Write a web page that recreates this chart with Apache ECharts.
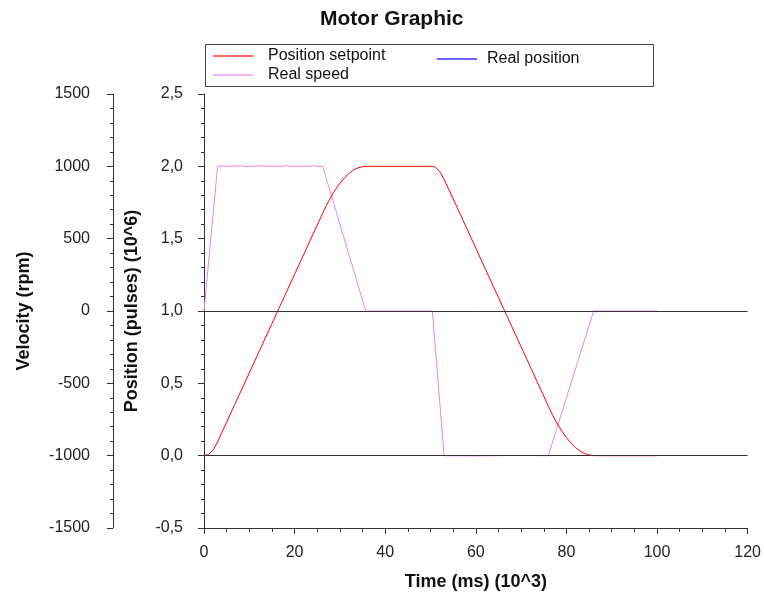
<!DOCTYPE html>
<html>
<head>
<meta charset="utf-8">
<script src="https://cdn.jsdelivr.net/npm/echarts@6/dist/echarts.min.js"></script>
<style>
html,body{margin:0;padding:0;background:#fff;}
#chart{width:764px;height:596px;}
</style>
</head>
<body>
<div id="chart"></div>
<script>
// Time in ms (x10^3), position in pulses (x10^6), speed in rpm
var positionSetpoint = [
  [0,0],[0.2,0],[1,0.008],[2,0.039],[3,0.095],[5,0.232],[10,0.572],[15,0.913],[20,1.254],
  [26.2,1.676],[27,1.728],[28,1.787],[29,1.839],[30,1.883],[31,1.921],[32,1.951],[33,1.974],
  [34,1.990],[35,1.998],[36,2.0],[50.4,2.0],[51,1.995],[52,1.966],[53,1.911],[55,1.775],
  [60,1.434],[65,1.093],[70,0.752],[76,0.343],[77,0.278],[78,0.220],[79,0.169],[80,0.125],
  [81,0.087],[82,0.056],[83,0.032],[84,0.015],[85,0.005],[86,0],[100,0]
];
// Real position: no visible trace in the reference (listed in legend only)
var realPosition = [];
var realSpeed = [
  [0,0],[0.2,0],[3.0,1000],[4,1004],[5,998],[6,1003],[7,1000],[8,1005],[9,999],[10,1002],
  [11,998],[12,1004],[13,1000],[14,1003],[15,998],[16,1002],[17,1000],[18,1005],[19,999],
  [20,1003],[21,998],[22,1002],[23,1000],[24,1004],[25,999],[26.2,1000],[35.7,0],[50.4,0],
  [53,-1000],[60,-1002],[68,-998],[76,-1000],[86,0],[100,0]
];
var legendNames = ['Position setpoint','Real position','Real speed'];

var chart = echarts.init(document.getElementById('chart'));
var FONT = '"Liberation Sans", Arial, sans-serif';
var axisCommon = {
  axisLine:{show:true, onZero:false, lineStyle:{color:'#333', width:1}},
  axisTick:{show:true, length:6, lineStyle:{color:'#333'}},
  minorTick:{show:true, splitNumber:5, length:3, lineStyle:{color:'#333'}},
  splitLine:{show:false},
  axisLabel:{color:'#222', fontSize:16, fontFamily:FONT},
  nameTextStyle:{color:'#111', fontSize:18, fontWeight:'bold', fontFamily:FONT}
};
var zeroLine = function(){
  return {silent:true, symbol:'none', label:{show:false},
    lineStyle:{color:'#333', width:1, type:'solid'}, data:[{yAxis:0}]};
};
var legendBase = {itemWidth:40, itemHeight:1.5, itemGap:0, icon:'rect'};
chart.setOption({
  animation:false,
  backgroundColor:'#fff',
  title:{text:'Motor Graphic', left:315, top:4,
    textStyle:{fontSize:21, fontWeight:'bold', color:'#111', fontFamily:FONT}},
  graphic:[{type:'rect', shape:{x:205.5, y:44.5, width:448, height:42},
    style:{fill:'none', stroke:'#444', lineWidth:1}}],
  legend:[
    Object.assign({data:[legendNames[0]], left:208, top:43,
      textStyle:{fontSize:16, color:'#111', fontFamily:FONT, padding:[0,0,0,10]}}, legendBase),
    Object.assign({data:[legendNames[1]], left:432, top:46,
      textStyle:{fontSize:16, color:'#111', fontFamily:FONT, padding:[0,0,0,5]}}, legendBase),
    Object.assign({data:[legendNames[2]], left:208, top:62,
      textStyle:{fontSize:16, color:'#111', fontFamily:FONT, padding:[0,0,0,10]}}, legendBase)
  ],
  grid:{left:204, right:14, top:94, bottom:68, containLabel:false},
  xAxis:Object.assign({}, axisCommon, {
    type:'value', min:0, max:120, interval:20,
    minorTick:{show:true, splitNumber:4, length:4, lineStyle:{color:'#333'}},
    axisLabel:Object.assign({}, axisCommon.axisLabel, {margin:17}),
    name:'Time (ms) (10^3)', nameLocation:'middle', nameGap:45
  }),
  yAxis:[
    Object.assign({}, axisCommon, {
      type:'value', min:-0.5, max:2.5, interval:0.5, position:'left', offset:0,
      axisLabel:Object.assign({}, axisCommon.axisLabel, {margin:21,
        formatter:function(v){return v.toFixed(1).replace('.',',');}}),
      name:'Position (pulses) (10^6)', nameLocation:'middle', nameGap:63
    }),
    Object.assign({}, axisCommon, {
      type:'value', min:-1500, max:1500, interval:500, position:'left', offset:91,
      axisLabel:Object.assign({}, axisCommon.axisLabel, {margin:23,
        formatter:function(v){return String(v);}}),
      name:'Velocity (rpm)', nameLocation:'middle', nameGap:80
    })
  ],
  series:[
    {name:'Real position', type:'line', yAxisIndex:0, data:realPosition, symbol:'none',
      lineStyle:{color:'#0000ff', width:1}, itemStyle:{color:'#3333ff'}, z:1},
    {name:'Position setpoint', type:'line', yAxisIndex:0, data:positionSetpoint, symbol:'none',
      lineStyle:{color:'#ff0000', width:1}, itemStyle:{color:'#ff3333'}, z:3,
      markLine:zeroLine()},
    {name:'Real speed', type:'line', yAxisIndex:1, data:realSpeed, symbol:'none',
      lineStyle:{color:'#ee82ee', width:1}, itemStyle:{color:'#f0a0f0'}, z:2,
      markLine:zeroLine()}
  ]
});
</script>
</body>
</html>
